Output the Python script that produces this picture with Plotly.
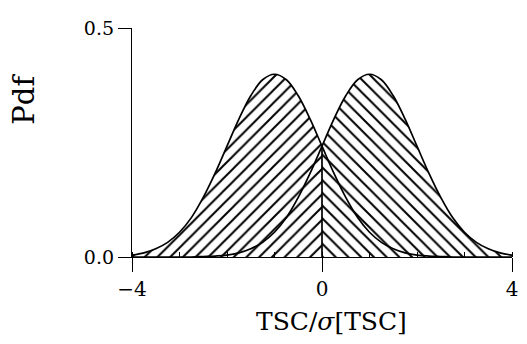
import plotly.graph_objects as go

# x positions (TSC/sigma[TSC])
x_vals = [-4.0, -3.75, -3.5, -3.25, -3.0, -2.75, -2.5, -2.25, -2.0, -1.75, -1.5, -1.25,
          -1.0, -0.75, -0.5, -0.25, 0.0, 0.25, 0.5, 0.75, 1.0, 1.25, 1.5, 1.75,
          2.0, 2.25, 2.5, 2.75, 3.0, 3.25, 3.5, 3.75, 4.0]
# left-hand density (peak near -1)
pdf_left = [0.004, 0.009, 0.018, 0.032, 0.054, 0.086, 0.130, 0.183, 0.242, 0.301, 0.352, 0.387,
            0.399, 0.387, 0.352, 0.301, 0.242, 0.183, 0.130, 0.086, 0.054, 0.032, 0.018, 0.009,
            0.004, 0.002, 0.001, 0.0, 0.0, 0.0, 0.0, 0.0, 0.0]
# right-hand density (peak near +1)
pdf_right = [0.0, 0.0, 0.0, 0.0, 0.0, 0.0, 0.001, 0.002, 0.004, 0.009, 0.018, 0.032,
             0.054, 0.086, 0.130, 0.183, 0.242, 0.301, 0.352, 0.387, 0.399, 0.387, 0.352, 0.301,
             0.242, 0.183, 0.130, 0.086, 0.054, 0.032, 0.018, 0.009, 0.004]

x_ticks = [-4, 0, 4]
x_ticktext = ["\u22124", "0", "4"]
y_ticks = [0.0, 0.5]
y_ticktext = ["0.0", "0.5"]

FONT = "DejaVu Serif"
i0 = x_vals.index(0.0)

fig = go.Figure()
# hatched regions
fig.add_trace(go.Scatter(x=x_vals[:i0 + 1], y=pdf_left[:i0 + 1], mode="lines", line=dict(width=0, shape="spline"),
                         fill="tozeroy", fillcolor="white",
                         fillpattern=dict(shape="/", fgcolor="black", fgopacity=1, bgcolor="white",
                                          size=9, solidity=0.22),
                         hoverinfo="skip", showlegend=False))
fig.add_trace(go.Scatter(x=x_vals[i0:], y=pdf_right[i0:], mode="lines", line=dict(width=0, shape="spline"),
                         fill="tozeroy", fillcolor="white",
                         fillpattern=dict(shape="\\", fgcolor="black", fgopacity=1, bgcolor="white",
                                          size=9, solidity=0.22),
                         hoverinfo="skip", showlegend=False))
# curves
fig.add_trace(go.Scatter(x=x_vals, y=pdf_left, mode="lines", line=dict(color="black", width=1.7, shape="spline"),
                         showlegend=False))
fig.add_trace(go.Scatter(x=x_vals, y=pdf_right, mode="lines", line=dict(color="black", width=1.7, shape="spline"),
                         showlegend=False))
# divider at zero
fig.add_trace(go.Scatter(x=[0, 0], y=[0, pdf_left[i0]], mode="lines", line=dict(color="black", width=1.7),
                         showlegend=False))

fig.update_layout(
    width=519, height=336,
    margin=dict(l=124, r=9, t=13, b=87),
    paper_bgcolor="white", plot_bgcolor="white",
    font=dict(family=FONT, color="black", size=19),
    showlegend=False,
    xaxis=dict(range=[-4, 4], tickvals=x_ticks, ticktext=x_ticktext, ticks="outside", ticklen=14,
               tickwidth=1.3, tickcolor="black", showline=True, linecolor="black", linewidth=1.3,
               showgrid=False, zeroline=False, tickfont=dict(size=20, family=FONT),
               minor=dict(dtick=1, ticks="inside", ticklen=5, tickwidth=1.2, tickcolor="black", showgrid=False)),
    yaxis=dict(range=[0, 0.5], tickvals=y_ticks, ticktext=y_ticktext, ticks="outside", ticklen=13,
               tickwidth=1.3, tickcolor="black", showline=True, linecolor="black", linewidth=1.3,
               showgrid=False, zeroline=False, tickfont=dict(size=19, family=FONT)),
    annotations=[
        dict(text="Pdf", xref="paper", yref="paper", x=-0.285, y=0.69, xanchor="center", yanchor="middle",
             textangle=-90, showarrow=False, font=dict(size=29, family=FONT)),
        dict(text="TSC/<i>\u03c3</i>[TSC]", xref="paper", yref="paper", x=0.526, y=-0.28, xanchor="center",
             yanchor="middle", showarrow=False, font=dict(size=25, family=FONT)),
    ],
)

fig.write_html("out.html")
